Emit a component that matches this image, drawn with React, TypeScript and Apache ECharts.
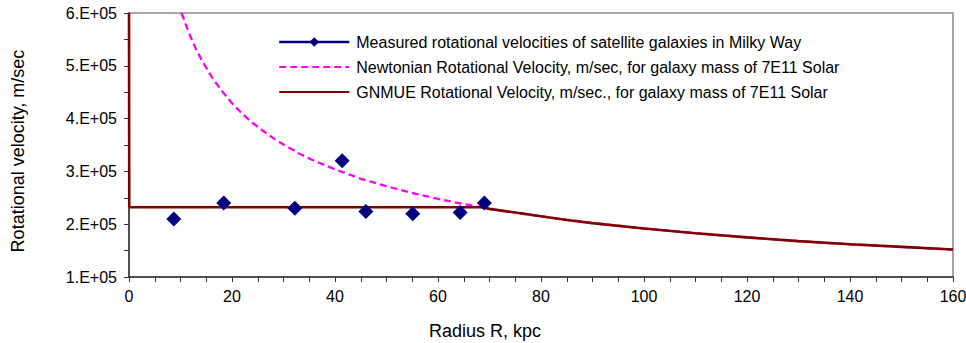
import React, { useEffect, useRef } from "react";
import * as echarts from "echarts";

// Radius in kpc, rotational velocity in m/s
const measuredR = [8.7, 18.4, 32.2, 41.4, 46.0, 55.1, 64.3, 69.0];
const measuredV = [2.1e5, 2.4e5, 2.3e5, 3.2e5, 2.24e5, 2.2e5, 2.22e5, 2.4e5];

const newtonR = [10.2, 10.6, 11, 11.5, 12, 12.5, 13, 14, 15, 16, 17, 18, 20, 22, 24, 26, 28, 30, 33, 36, 40, 45, 50, 55, 60, 65, 70, 80, 90, 100, 110, 120, 130, 140, 150, 160];
const newtonV = [6.0e5, 5.9e5, 5.79e5, 5.66e5, 5.54e5, 5.43e5, 5.32e5, 5.13e5, 4.96e5, 4.8e5, 4.66e5, 4.53e5, 4.29e5, 4.09e5, 3.92e5, 3.77e5, 3.63e5, 3.51e5, 3.34e5, 3.2e5, 3.04e5, 2.86e5, 2.72e5, 2.59e5, 2.48e5, 2.38e5, 2.29e5, 2.15e5, 2.02e5, 1.92e5, 1.83e5, 1.75e5, 1.68e5, 1.62e5, 1.57e5, 1.52e5];

const gnmueR = [0, 0.05, 68.5, 70, 75, 80, 85, 90, 100, 110, 120, 130, 140, 150, 160];
const gnmueV = [6.0e5, 2.32e5, 2.32e5, 2.29e5, 2.22e5, 2.15e5, 2.08e5, 2.02e5, 1.92e5, 1.83e5, 1.75e5, 1.68e5, 1.62e5, 1.57e5, 1.52e5];

const seriesNames = [
  "Measured rotational velocities of satellite galaxies in Milky Way",
  "Newtonian Rotational Velocity, m/sec, for galaxy mass of 7E11 Solar",
  "GNMUE Rotational Velocity, m/sec., for galaxy mass of 7E11 Solar",
];

const xTitle = "Radius R, kpc";
const yTitle = "Rotational velocity, m/sec";

const FONT = '"Liberation Sans", Arial, sans-serif';

const zip = (xs: number[], ys: number[]) => xs.map((x, i) => [x, ys[i]]);

export default function App() {
  const ref = useRef<HTMLDivElement>(null);

  useEffect(() => {
    if (!ref.current) return;
    const chart = echarts.init(ref.current, undefined, { renderer: "svg" });
    chart.setOption({
      animation: false,
      backgroundColor: "#ffffff",
      textStyle: { fontFamily: FONT },
      grid: {
        left: 129,
        right: 13,
        top: 13,
        bottom: 66,
        show: true,
        borderColor: "#8c8c8c",
        borderWidth: 1.5,
        outerBoundsMode: "none",
      },
      legend: {
        orient: "vertical",
        left: 278,
        top: 34,
        padding: 0,
        itemWidth: 70,
        itemHeight: 12,
        itemGap: 9,
        textStyle: { fontFamily: FONT, fontSize: 16, color: "#000", lineHeight: 16, padding: [0, 0, 0, 2] },
        data: [
          { name: seriesNames[0], lineStyle: { opacity: 1, width: 2.5, color: "#000080" } },
          { name: seriesNames[1], itemStyle: { opacity: 0 } },
          { name: seriesNames[2], itemStyle: { opacity: 0 } },
        ],
      },
      xAxis: {
        type: "value",
        min: 0,
        max: 160,
        interval: 20,
        axisLine: { show: true, onZero: false, lineStyle: { color: "#333", width: 1.5 } },
        axisTick: { show: true, length: 5, lineStyle: { color: "#333" } },
        minorTick: { show: true, splitNumber: 4, length: 5, lineStyle: { color: "#333" } },
        splitLine: { show: false },
        axisLabel: { color: "#000", fontSize: 16, fontFamily: FONT, margin: 11 },
      },
      yAxis: {
        type: "value",
        min: 1e5,
        max: 6e5,
        interval: 1e5,
        axisLine: { show: true, onZero: false, lineStyle: { color: "#333", width: 1.5 } },
        axisTick: { show: true, length: 5, lineStyle: { color: "#333" } },
        minorTick: { show: true, splitNumber: 2, length: 5, lineStyle: { color: "#333" } },
        splitLine: { show: false },
        axisLabel: {
          color: "#000",
          fontSize: 16,
          fontFamily: FONT,
          margin: 12,
          formatter: (v: number) => `${Math.round(v / 1e5)}.E+05`,
        },
      },
      series: [
        {
          name: seriesNames[1],
          type: "line",
          data: zip(newtonR, newtonV),
          smooth: false,
          showSymbol: false,
          symbol: "circle",
          symbolSize: 0,
          clip: true,
          color: "#ff00ff",
          lineStyle: { color: "#ff00ff", width: 2.3, type: [7, 4] },
          z: 2,
        },
        {
          name: seriesNames[2],
          type: "line",
          data: zip(gnmueR, gnmueV),
          showSymbol: false,
          symbol: "circle",
          symbolSize: 0,
          clip: true,
          color: "#800000",
          lineStyle: { color: "#800000", width: 2.6 },
          z: 3,
        },
        {
          name: seriesNames[0],
          type: "line",
          data: zip(measuredR, measuredV),
          symbol: "diamond",
          symbolSize: 15,
          showSymbol: true,
          color: "#000080",
          itemStyle: { color: "#000080" },
          lineStyle: { opacity: 0, width: 0 },
          z: 4,
        },
      ],
      graphic: [
        {
          type: "text",
          x: 485,
          y: 331,
          style: {
            text: xTitle,
            font: `18px ${FONT}`,
            fill: "#000",
            align: "center",
            verticalAlign: "middle",
          },
        },
        {
          type: "text",
          x: 18,
          y: 151,
          rotation: Math.PI / 2,
          style: {
            text: yTitle,
            font: `18px ${FONT}`,
            fill: "#000",
            align: "center",
            verticalAlign: "middle",
          },
        },
      ],
    });
    return () => chart.dispose();
  }, []);

  return (
    <div
      ref={ref}
      style={{ position: "fixed", left: 0, top: 0, width: 966, height: 343, background: "#fff" }}
    />
  );
}
